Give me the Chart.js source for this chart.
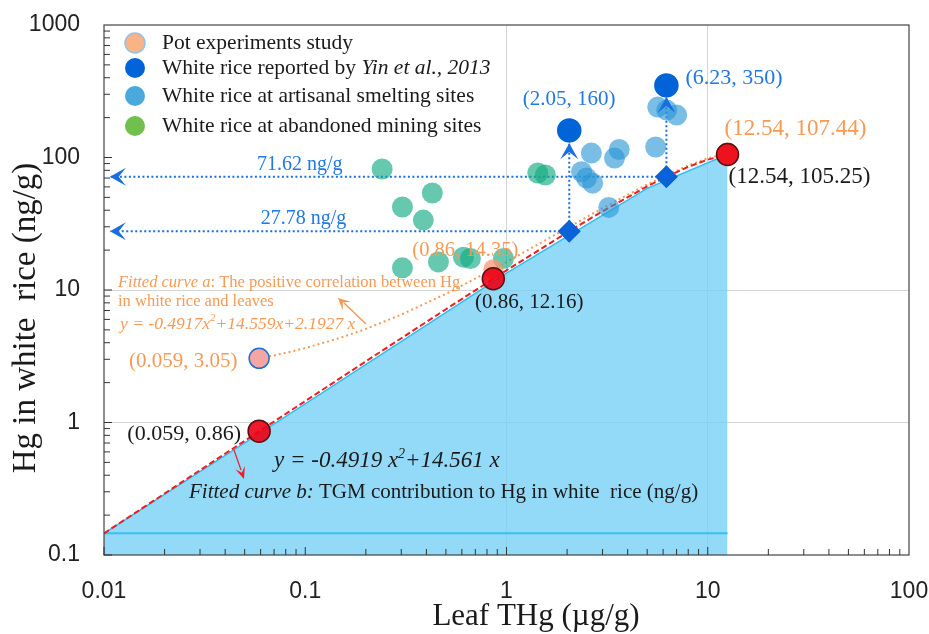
<!DOCTYPE html>
<html>
<head>
<meta charset="utf-8">
<script src="https://cdn.jsdelivr.net/npm/chart.js@4.4.0/dist/chart.umd.min.js"></script>
<style>
  html, body { margin: 0; padding: 0; background: #fff; }
  #wrap { width: 929px; height: 634px; }
</style>
</head>
<body>
<div id="wrap"><canvas id="chart" width="929" height="634"></canvas></div>
<script>
// Axis ticks
const xTicks = [0.01, 0.1, 1, 10, 100]
const xTickLabels = ["0.01", "0.1", "1", "10", "100"]
const yTicks = [0.1, 1, 10, 100, 1000]
const yTickLabels = ["0.1", "1", "10", "100", "1000"]

// Fitted curve b: y = -0.4919x^2 + 14.561x
const curveBX = [0.01, 0.02, 0.03, 0.05, 0.059, 0.1, 0.2, 0.3, 0.5, 0.86, 1, 2, 2.05, 3, 5, 6.23, 8, 10, 12.54]
const curveBY = [0.1456, 0.291, 0.4364, 0.7269, 0.8574, 1.451, 2.893, 4.324, 7.158, 12.16, 14.07, 27.15, 27.78, 39.26, 60.51, 71.62, 85.01, 96.42, 105.25]

// Fitted curve a: y = -0.4917x^2 + 14.559x + 2.1927
const curveAX = [0.059, 0.07, 0.08, 0.1, 0.15, 0.2, 0.3, 0.5, 0.86, 1, 2, 3, 5, 8, 10, 12.54]
const curveAY = [3.05, 3.209, 3.354, 3.644, 4.366, 5.085, 6.516, 9.349, 14.35, 16.26, 29.34, 41.44, 62.7, 87.2, 98.61, 107.44]

// Blue area (TGM contribution) edge and its base line
const areaX = [0.01, 0.1, 1, 5, 12.54]
const areaY = [0.1456, 1.38, 13.4, 58.5, 105.25]
const baseX = [0.01, 12.54]
const baseY = [0.146, 0.146]

// Points
const potX = [0.059, 0.86, 12.54]
const potY = [3.05, 14.35, 107.44]
const redX = [0.059, 0.86, 12.54]
const redY = [0.86, 12.16, 105.25]
const yinX = [2.05, 6.23]
const yinY = [160, 350]
const diaX = [2.05, 6.23]
const diaY = [27.78, 71.62]
const artX = [5.64, 6.25, 7.01, 5.51, 2.64, 3.63, 3.44, 2.36, 2.5, 2.68, 3.22]
const artY = [240, 228, 209, 120, 108, 115, 99, 78, 70, 64, 42]
const abX = [0.241, 0.304, 0.428, 0.386, 1.43, 1.56, 0.611, 0.662, 0.459, 0.304, 0.966]
const abY = [81.9, 42.3, 54, 33.7, 76.4, 73.8, 17.7, 17.3, 16.3, 14.7, 17.3]

// Arrow ends
const arrowLeftX = 0.0107
const arrowTopY = [128, 286]

const legendLabels = ["Pot experiments study", "White rice reported by ", "White rice at artisanal smelting sites", "White rice at abandoned mining sites"]
const legendColors = ["#f9b384", "#0064d9", "#4aa9dc", "#6fc04d"]

const SERIF = "'Liberation Serif', 'Times New Roman', serif"
const BLUE = "#1f78e3"
const ORANGE = "#f79a55"

const zip = (xs, ys) => xs.map((x, i) => ({ x: x, y: ys[i] }))

function lineSet(data, color, width, dash, order, extra) {
  return Object.assign({
    type: "line",
    data: data,
    borderColor: color,
    borderWidth: width,
    borderDash: dash,
    pointRadius: 0,
    fill: false,
    tension: 0,
    order: order,
  }, extra || {})
}

function dotSet(data, bg, border, radius, order, style) {
  return {
    type: "scatter",
    data: data,
    pointBackgroundColor: bg,
    pointBorderColor: border,
    pointBorderWidth: 1.5,
    pointRadius: radius,
    pointStyle: style || "circle",
    order: order,
  }
}

function segs(ctx, x, y, parts, align) {
  let w = 0
  parts.forEach((p) => { ctx.font = p[1]; w += ctx.measureText(p[0]).width })
  let cx = align === "center" ? x - w / 2 : x
  ctx.textAlign = "left"
  parts.forEach((p) => {
    ctx.font = p[1]
    ctx.fillText(p[0], cx, y + (p[2] || 0))
    cx += ctx.measureText(p[0]).width
  })
}

function arrowHead(ctx, from, to, len, half) {
  const ang = Math.atan2(to.y - from.y, to.x - from.x)
  const c = Math.cos(ang), s = Math.sin(ang)
  ctx.beginPath()
  ctx.moveTo(to.x, to.y)
  ctx.lineTo(to.x - len * c - half * s, to.y - len * s + half * c)
  ctx.lineTo(to.x - len * 0.55 * c, to.y - len * 0.55 * s)
  ctx.lineTo(to.x - len * c + half * s, to.y - len * s - half * c)
  ctx.closePath()
  ctx.fill()
}

const decor = {
  id: "decor",
  afterDatasetsDraw(chart) {
    const { ctx, chartArea: a, scales } = chart
    const px = (v) => scales.x.getPixelForValue(v)
    const py = (v) => scales.y.getPixelForValue(v)
    ctx.save()

    // frame
    ctx.strokeStyle = "#444"
    ctx.lineWidth = 1.2
    ctx.strokeRect(a.left, a.top, a.right - a.left, a.bottom - a.top)

    // inward minor ticks
    ctx.lineWidth = 1
    ctx.strokeStyle = "#333"
    ctx.beginPath()
    for (let d = 0; d < xTicks.length - 1; d++) {
      for (let k = 1; k <= 9; k++) {
        const x = px(xTicks[d] * k)
        ctx.moveTo(x, a.bottom)
        ctx.lineTo(x, a.bottom - (k === 1 ? 8 : 6))
      }
    }
    for (let d = 0; d < yTicks.length - 1; d++) {
      for (let k = 1; k <= 9; k++) {
        const y = py(yTicks[d] * k)
        ctx.moveTo(a.left, y)
        ctx.lineTo(a.left + (k === 1 ? 8 : 6), y)
      }
    }
    ctx.stroke()

    // arrowheads on the dotted guide lines
    ctx.fillStyle = "#1a6fe0"
    for (let i = 4; i <= 7; i++) {
      const pts = chart.getDatasetMeta(i).data
      arrowHead(ctx, pts[pts.length - 2], pts[pts.length - 1], 16, 9)
    }

    ctx.textBaseline = "middle"
    const f = (size, style) => (style || "") + " " + size + "px " + SERIF

    // blue labels
    ctx.fillStyle = BLUE
    segs(ctx, px(yinX[0]), py(yinY[0]) - 31, [["(2.05, 160)", f(21)]], "center")
    segs(ctx, px(yinX[1]) + 19, py(yinY[1]) - 7, [["(6.23, 350)", f(22)]])
    segs(ctx, px(0.094), py(diaY[1]) - 12, [["71.62 ng/g", f(20)]], "center")
    segs(ctx, px(0.098), py(diaY[0]) - 12, [["27.78 ng/g", f(20)]], "center")

    // orange labels
    ctx.fillStyle = ORANGE
    segs(ctx, px(potX[2]) - 3, py(potY[2]) - 24, [["(12.54, 107.44)", f(23)]])
    segs(ctx, px(potX[1]) - 28, py(potY[1]) - 19, [["(0.86, 14.35)", f(20.5)]], "center")
    segs(ctx, px(potX[0]) - 76, py(potY[0]) + 3, [["(0.059, 3.05)", f(21)]], "center")
    segs(ctx, 118, 283, [["Fitted curve a", f(16.5, "italic")], [": The positive correlation between Hg", f(16.5)]])
    segs(ctx, 118, 302, [["in white rice and leaves", f(16.5)]])
    segs(ctx, 120, 324, [["y = -0.4917x", f(17.5, "italic")], ["2", f(11, "italic"), -6], ["+14.559x+2.1927 x", f(17.5, "italic")]])
    ctx.strokeStyle = ORANGE
    ctx.lineWidth = 1.5
    ctx.beginPath()
    ctx.moveTo(366, 324)
    ctx.lineTo(344, 303)
    ctx.stroke()
    arrowHead(ctx, { x: 366, y: 324 }, { x: 338, y: 298 }, 12, 6)

    // black labels
    ctx.fillStyle = "#1a1a1a"
    segs(ctx, px(redX[2]) + 1, py(redY[2]) + 22, [["(12.54, 105.25)", f(23)]])
    segs(ctx, px(redX[1]) + 36, py(redY[1]) + 24, [["(0.86, 12.16)", f(21)]], "center")
    segs(ctx, px(redX[0]) - 75, py(redY[0]) + 3, [["(0.059, 0.86)", f(22)]], "center")
    segs(ctx, 274, 461, [["y = -0.4919 x", f(23, "italic")], ["2", f(14, "italic"), -7], ["+14.561 x", f(23, "italic")]])
    segs(ctx, 189, 492, [["Fitted curve b:", f(21, "italic")], [" TGM contribution to Hg in white  rice (ng/g)", f(21)]])
    ctx.strokeStyle = "#e8202a"
    ctx.fillStyle = "#e8202a"
    ctx.lineWidth = 1.2
    ctx.beginPath()
    ctx.moveTo(234, 450)
    ctx.lineTo(241, 470)
    ctx.stroke()
    arrowHead(ctx, { x: 234, y: 450 }, { x: 244, y: 479 }, 12, 5)

    // legend
    const rows = [43, 68, 96, 126]
    rows.forEach((y, i) => {
      ctx.beginPath()
      ctx.arc(135, y, 10, 0, Math.PI * 2)
      ctx.fillStyle = legendColors[i]
      ctx.fill()
      if (i === 0) {
        ctx.strokeStyle = "#8cc4ec"
        ctx.lineWidth = 1.5
        ctx.stroke()
      }
      ctx.fillStyle = "#1a1a1a"
      const parts = [[legendLabels[i], f(21.5)]]
      if (i === 1) parts.push(["Yin et al., 2013", f(21.5, "italic")])
      segs(ctx, 162, y, parts)
    })

    // axis titles
    ctx.fillStyle = "#1a1a1a"
    segs(ctx, 536, 617, [["Leaf THg (\u00b5g/g)", f(31)]], "center")
    ctx.translate(26, 318)
    ctx.rotate(-Math.PI / 2)
    segs(ctx, 0, 0, [["Hg in white  rice (ng/g)", f(33)]], "center")
    ctx.restore()
  },
}

const tickFont = { family: "'Liberation Sans', Arial, sans-serif", size: 23 }
const gridColor = (c) => {
  const v = c.tick && c.tick.value
  const edge = v === 0.01 || v === 100 || v === 0.1 || v === 1000
  return edge ? "rgba(0,0,0,0)" : "#d6d6d6"
}

new Chart(document.getElementById("chart"), {
  type: "scatter",
  data: {
    datasets: [
      lineSet(zip(areaX, areaY), "#35bdf0", 1.5, [], 20, { fill: "start", backgroundColor: "rgba(120,208,246,0.8)" }),
      lineSet(zip(baseX, baseY), "#33c3f3", 2, [], 19),
      lineSet(zip(curveAX, curveAY), ORANGE, 2, [2, 3], 6),
      lineSet(zip(curveBX, curveBY), "#f01e1e", 2, [6, 3], 5),
      lineSet([{ x: diaX[0], y: diaY[0] }, { x: arrowLeftX, y: diaY[0] }], "#1a6fe0", 2, [2, 2.5], 7),
      lineSet([{ x: diaX[1], y: diaY[1] }, { x: arrowLeftX, y: diaY[1] }], "#1a6fe0", 2, [2, 2.5], 7),
      lineSet([{ x: diaX[0], y: diaY[0] }, { x: diaX[0], y: arrowTopY[0] }], "#1a6fe0", 2, [2, 2.5], 7),
      lineSet([{ x: diaX[1], y: diaY[1] }, { x: diaX[1], y: arrowTopY[1] }], "#1a6fe0", 2, [2, 2.5], 7),
      dotSet(zip(abX, abY), "rgba(20,170,130,0.65)", "rgba(0,0,0,0)", 10.5, 4),
      dotSet(zip(artX, artY), "rgba(40,150,215,0.62)", "rgba(0,0,0,0)", 10.5, 4),
      dotSet(zip(potX, potY), ["#f5a5a2", "rgba(250,150,115,0.75)", "#f9b384"], ["#1e6fd0", "rgba(0,0,0,0)", "#f9b384"], 10, 3),
      dotSet(zip(redX, redY), "rgba(236,0,20,0.9)", "#5a1010", 11, 2),
      dotSet(zip(diaX, diaY), "#0a62d8", "#0a62d8", 10.5, 1, "rectRot"),
      dotSet(zip(yinX, yinY), "#0064d9", "#0064d9", 11.5, 1),
    ],
  },
  options: {
    responsive: false,
    animation: false,
    events: [],
    devicePixelRatio: 1,
    layout: { padding: { top: 25, right: 20, left: 0, bottom: 0 } },
    plugins: { legend: { display: false }, tooltip: { enabled: false } },
    scales: {
      x: {
        type: "logarithmic",
        min: 0.01,
        max: 100,
        afterBuildTicks: (s) => { s.ticks = xTicks.map((v) => ({ value: v })) },
        afterFit: (s) => { s.height = 79; s.paddingLeft = 0; s.paddingRight = 0 },
        ticks: {
          autoSkip: false,
          maxRotation: 0,
          padding: 23,
          color: "#222",
          font: tickFont,
          callback: (v, i) => xTickLabels[i],
        },
        grid: { color: gridColor, drawTicks: false, lineWidth: 1 },
        border: { display: false },
      },
      y: {
        type: "logarithmic",
        min: 0.1,
        max: 1000,
        afterBuildTicks: (s) => { s.ticks = yTicks.map((v) => ({ value: v })) },
        afterFit: (s) => { s.width = 104; s.paddingTop = 0; s.paddingBottom = 0 },
        ticks: {
          autoSkip: false,
          padding: 24,
          color: "#222",
          font: tickFont,
          callback: (v, i) => yTickLabels[i],
        },
        grid: { color: gridColor, drawTicks: false, lineWidth: 1 },
        border: { display: false },
      },
    },
  },
  plugins: [decor],
})
</script>
</body>
</html>
